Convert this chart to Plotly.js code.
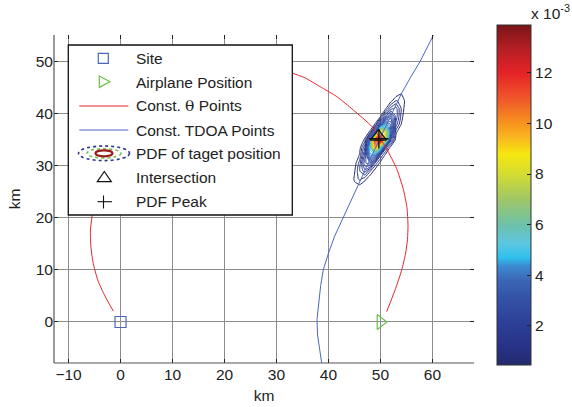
<!DOCTYPE html>
<html>
<head>
<meta charset="utf-8">
<script src="https://cdn.plot.ly/plotly-3.0.1.min.js"></script>
<style>html,body{margin:0;padding:0;background:#fff;}#chart{width:572px;height:407px;}</style>
</head>
<body>
<div id="chart"></div>
<script>
// ---------------- data ----------------
var siteX = [0], siteY = [0];
var planeX = [50], planeY = [0];
// Const. theta points
var thetaX = [-1.4, -3.0, -4.4, -5.3, -5.7, -5.8, -5.5, -4.9, -3.9, -1.7, 1.4, 5.2, 9.6, 14.5, 19.7, 25.0, 30.3, 33.0, 35.5, 38.4, 41.6, 44.8, 48.4, 51.1, 53.1, 54.4, 55.1, 55.3, 55.2, 54.8, 54.1, 52.8, 51.2];
var thetaY = [2.1, 5.0, 8.1, 11.5, 14.5, 17.5, 20.2, 24.0, 28.5, 33.4, 37.8, 41.6, 44.7, 46.9, 48.3, 48.8, 48.4, 47.8, 46.9, 45.2, 43.3, 40.7, 37.5, 33.4, 29.5, 25.5, 22.0, 18.5, 15.8, 13.0, 10.0, 6.1, 2.0];
// Const. TDOA points
var tdoaX = [38.7, 38.2, 37.9, 37.8, 38.1, 38.5, 39.0, 40.0, 41.2, 42.6, 44.2, 45.8, 47.8, 49.8, 52.0, 54.1, 55.8, 57.6, 60.2];
var tdoaY = [-7.9, -5.0, -2.5, 0.5, 3.6, 7.0, 10.0, 13.2, 16.5, 19.6, 23.0, 26.6, 30.8, 35.0, 39.5, 44.0, 47.0, 50.0, 55.1];
// PDF of target position (values in units of 1e-3)
var pdfX = [42, 43, 44, 45, 46, 47, 48, 49, 50, 51, 52, 53, 54, 55, 56, 57, 58];
var pdfY = [23, 24.5, 26, 27.5, 29, 30.5, 32, 33.5, 35, 36.5, 38, 39.5, 41, 42.5, 44, 45.5, 47];
var pdfZ = [
  [0, 0.05, 0.08, 0.05, 0.01, 0, 0, 0, 0, 0, 0, 0, 0, 0, 0, 0, 0],
  [0, 0.05, 0.16, 0.19, 0.08, 0.01, 0, 0, 0, 0, 0, 0, 0, 0, 0, 0, 0],
  [0, 0.02, 0.16, 0.41, 0.38, 0.13, 0.01, 0, 0, 0, 0, 0, 0, 0, 0, 0, 0],
  [0, 0.01, 0.12, 0.55, 0.89, 0.63, 0.22, 0.02, 0, 0, 0, 0, 0, 0, 0, 0, 0],
  [0, 0, 0.05, 0.45, 1.09, 1.59, 0.85, 0.30, 0.01, 0, 0, 0, 0, 0, 0, 0, 0],
  [0, 0, 0, 0.30, 0.95, 2.24, 2.50, 1.03, 0.35, 0.01, 0, 0, 0, 0, 0, 0, 0],
  [0, 0, 0, 0.06, 0.55, 1.83, 4.25, 3.62, 1.13, 0.35, 0, 0, 0, 0, 0, 0, 0],
  [0, 0, 0, 0, 0.35, 1.40, 4.90, 9.50, 5.60, 1.24, 0.30, 0, 0, 0, 0, 0, 0],
  [0, 0, 0, 0, 0.05, 0.60, 3.00, 11.50, 13.60, 6.90, 1.60, 0.30, 0, 0, 0, 0, 0],
  [0, 0, 0, 0, 0, 0.10, 0.60, 2.80, 8.50, 7.80, 2.90, 0.60, 0.05, 0, 0, 0, 0],
  [0, 0, 0, 0, 0, 0, 0.05, 0.55, 2.20, 4.35, 3.42, 1.30, 0.50, 0, 0, 0, 0],
  [0, 0, 0, 0, 0, 0, 0, 0.05, 0.45, 1.66, 2.70, 1.62, 0.70, 0.05, 0, 0, 0],
  [0, 0, 0, 0, 0, 0, 0, 0, 0.06, 0.45, 1.24, 1.54, 0.80, 0.20, 0.01, 0, 0],
  [0, 0, 0, 0, 0, 0, 0, 0, 0, 0.08, 0.38, 0.81, 0.77, 0.35, 0.04, 0, 0],
  [0, 0, 0, 0, 0, 0, 0, 0, 0, 0, 0.04, 0.22, 0.46, 0.32, 0.09, 0.01, 0],
  [0, 0, 0, 0, 0, 0, 0, 0, 0, 0, 0, 0.03, 0.13, 0.20, 0.11, 0.02, 0],
  [0, 0, 0, 0, 0, 0, 0, 0, 0, 0, 0, 0, 0, 0.06, 0.07, 0.03, 0]
];
var intersectX = [49.6], intersectY = [35.6];
var peakX = [49.7], peakY = [35.2];
var cbMin = 0.44, cbMax = 13.9;
var cbTicks = [2, 4, 6, 8, 10, 12];
var xTicks = [-10, 0, 10, 20, 30, 40, 50, 60];
var yTicks = [0, 10, 20, 30, 40, 50];
var legendLabels = ['Site', 'Airplane Position', 'Const. <span style="font-family:DejaVu Serif">θ</span> Points', 'Const. TDOA Points', 'PDF of taget position', 'Intersection', 'PDF Peak'];

// ---------------- styling ----------------
var FONT = 'Liberation Sans, Arial, Helvetica, sans-serif';
var jet = [[0,'#232a6d'],[0.05,'#273186'],[0.12,'#2c3f97'],[0.2,'#3454a8'],[0.25,'#3b67b6'],[0.29,'#3b8ad0'],[0.316,'#30c0ee'],[0.36,'#5ec6df'],[0.41,'#6cc1ab'],[0.49,'#a2c764'],[0.56,'#d3dc33'],[0.62,'#f6e70f'],[0.67,'#f9b520'],[0.71,'#f7941d'],[0.78,'#f0592b'],[0.86,'#e52227'],[0.93,'#b41f23'],[1,'#7a1518']];
var BLUE = '#4a68c0', RED = '#e8232d', GREEN = '#6cc04a';

// pixel -> paper helpers (plot area 54..474 x 35..363)
var L = 54, R = 474, T = 35, B = 363;
function X(px) { return (px - L) / (R - L); }
function Y(py) { return (B - py) / (B - T); }

var traces = [
  {type:'scatter', mode:'lines', x:tdoaX, y:tdoaY, name:'Const. TDOA Points', line:{color:BLUE, width:1}},
  {type:'scatter', mode:'lines', x:thetaX, y:thetaY, name:'Const. θ Points', line:{color:RED, width:1, shape:'spline', smoothing:0.6}},
  {type:'contour', x:pdfX, y:pdfY, z:pdfZ, name:'PDF of taget position', colorscale:jet, zauto:false, zmin:cbMin, zmax:cbMax,
   contours:{coloring:'lines', start:0.5, end:13.5, size:0.3}, line:{width:1, smoothing:0.3}, showscale:false},
  {type:'scatter', mode:'markers', x:siteX, y:siteY, name:'Site', marker:{symbol:'square-open', size:11, color:BLUE, line:{width:1.2}}},
  {type:'scatter', mode:'markers', x:planeX, y:planeY, name:'Airplane Position', marker:{symbol:'triangle-right-open', size:13, color:GREEN, line:{width:1.2}}},
  {type:'scatter', mode:'markers', x:intersectX, y:intersectY, name:'Intersection', marker:{symbol:'triangle-up-open', size:14, color:'#111', line:{width:1.3}}},
  {type:'scatter', mode:'markers', x:peakX, y:peakY, name:'PDF Peak', marker:{symbol:'cross-thin-open', size:14, color:'#111', line:{width:1.3, color:'#111'}}},
  // colour bar carrier
  {type:'scatter', mode:'markers', x:peakX, y:peakY, hoverinfo:'skip', showlegend:false,
   marker:{size:1, opacity:0, color:[cbMax], cmin:cbMin, cmax:cbMax, colorscale:jet, showscale:true,
     colorbar:{thickness:34, thicknessmode:'pixels', len:340, lenmode:'pixels', x:X(497), xanchor:'left', y:Y(25), yanchor:'top',
       xpad:0, ypad:0, outlinewidth:1, outlinecolor:'#333', ticks:'inside', ticklen:4, tickcolor:'#222',
       tickvals:cbTicks, ticktext:cbTicks.map(String), tickfont:{family:FONT, size:15.5, color:'#222'}}}}
];

var shapes = [
  {type:'line', xref:'paper', yref:'paper', x0:0, x1:0, y0:0, y1:1, line:{color:'#555', width:1.2}},
  {type:'line', xref:'paper', yref:'paper', x0:0, x1:1, y0:0, y1:0, line:{color:'#555', width:1.2}},
  // legend box
  {type:'rect', xref:'paper', yref:'paper', x0:X(68.3), x1:X(292.3), y0:Y(215), y1:Y(45), fillcolor:'#fff', line:{color:'#111', width:1.3}, layer:'above'},
  // site icon
  {type:'rect', xref:'paper', yref:'paper', x0:X(98.3), x1:X(108.3), y0:Y(63.3), y1:Y(53.3), line:{color:BLUE, width:1.2}, layer:'above'},
  // airplane icon
  {type:'path', xref:'paper', yref:'paper', path:'M'+X(99.3)+','+Y(76)+' L'+X(110)+','+Y(81.7)+' L'+X(99.3)+','+Y(87.4)+' Z', line:{color:GREEN, width:1.2}, layer:'above'},
  // line icons
  {type:'line', xref:'paper', yref:'paper', x0:X(79.3), x1:X(128.3), y0:Y(106), y1:Y(106), line:{color:RED, width:1}, layer:'above'},
  {type:'line', xref:'paper', yref:'paper', x0:X(79.3), x1:X(128.3), y0:Y(130), y1:Y(130), line:{color:BLUE, width:1}, layer:'above'},
  // PDF icon
  {type:'circle', xref:'paper', yref:'paper', x0:X(78.5), x1:X(129.5), y0:Y(160.6), y1:Y(146), line:{color:'#2a3590', width:1.6, dash:'dot'}, layer:'above'},
  {type:'circle', xref:'paper', yref:'paper', x0:X(87), x1:X(121), y0:Y(158), y1:Y(148.7), line:{color:'#6cc04a', width:1.5, dash:'dot'}, layer:'above'},
  {type:'circle', xref:'paper', yref:'paper', x0:X(95.5), x1:X(112.5), y0:Y(156.3), y1:Y(150.3), line:{color:'#9b1a1a', width:2.2}, layer:'above'},
  // intersection icon
  {type:'path', xref:'paper', yref:'paper', path:'M'+X(97.3)+','+Y(181.7)+' L'+X(111.3)+','+Y(181.7)+' L'+X(104.3)+','+Y(171.5)+' Z', line:{color:'#111', width:1.2}, layer:'above'},
  // peak icon
  {type:'line', xref:'paper', yref:'paper', x0:X(97.5), x1:X(112), y0:Y(201.7), y1:Y(201.7), line:{color:'#111', width:1.1}, layer:'above'},
  {type:'line', xref:'paper', yref:'paper', x0:X(103.5), x1:X(103.5), y0:Y(195.5), y1:Y(208.5), line:{color:'#111', width:1.1}, layer:'above'}
];
// left-edge ticks of the colour bar (MATLAB draws them on both sides)
cbTicks.forEach(function (v) {
  var py = 365 - (v - cbMin) / (cbMax - cbMin) * 340;
  shapes.push({type:'line', xref:'paper', yref:'paper', x0:X(497), x1:X(501), y0:Y(py), y1:Y(py), line:{color:'#222', width:1}});
});

var rowsY = [58.3, 82, 106, 130, 153.3, 177, 201];
var annotations = legendLabels.map(function (t, i) {
  return {xref:'paper', yref:'paper', x:X(134), y:Y(rowsY[i]), xanchor:'left', yanchor:'middle', text:t, showarrow:false,
          font:{family:FONT, size:15.5, color:'#222'}};
});
annotations.push({xref:'paper', yref:'paper', x:X(550), y:Y(12), xanchor:'center', yanchor:'middle', text:'x 10<sup>-3</sup>', showarrow:false,
  font:{family:FONT, size:15.5, color:'#222'}});

var axisCommon = {showgrid:true, gridcolor:'#8c8c8c', gridwidth:1, zeroline:false, showline:false, mirror:'ticks',
  ticks:'inside', ticklen:4, tickcolor:'#222', tickfont:{family:FONT, size:15.5, color:'#222'}, automargin:false, fixedrange:true};

var layout = {
  width:572, height:407, margin:{l:54, r:98, t:35, b:44, pad:0},
  paper_bgcolor:'#fff', plot_bgcolor:'#fff', showlegend:false,
  font:{family:FONT, size:15.5, color:'#222'},
  xaxis:Object.assign({}, axisCommon, {range:[-12.8, 68.0], tickvals:xTicks, title:{text:'km', font:{family:FONT, size:15.5, color:'#222'}, standoff:8}}),
  yaxis:Object.assign({}, axisCommon, {range:[-7.88, 55.13], tickvals:yTicks, title:{text:'km', font:{family:FONT, size:15.5, color:'#222'}, standoff:11}}),
  shapes:shapes, annotations:annotations
};

Plotly.newPlot('chart', traces, layout, {staticPlot:true, displayModeBar:false});
</script>
</body>
</html>
